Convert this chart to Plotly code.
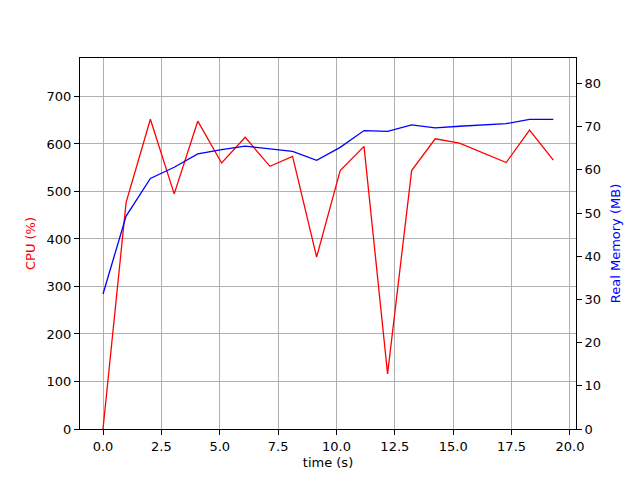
import plotly.graph_objects as go

time_s = [0.0, 0.99, 2.03, 3.05, 4.06, 5.08, 6.09, 7.15, 8.12, 9.15, 10.16,
          11.18, 12.19, 13.22, 14.23, 15.27, 17.27, 18.27, 19.29]
cpu_pct = [0, 477, 652, 495, 648, 560, 614, 553, 574, 362, 544,
           595, 116, 544, 611, 602, 561, 629, 566]
mem_mb = [31.25, 49.3, 58.0, 60.6, 63.7, 64.7, 65.5, 64.9, 64.3, 62.2, 65.2,
          69.1, 68.9, 70.4, 69.7, 70.1, 70.7, 71.7, 71.7]

font = dict(family="DejaVu Sans", size=13, color="black")

fig = go.Figure()
fig.add_trace(go.Scatter(x=time_s, y=cpu_pct, mode="lines",
                         line=dict(color="red", width=1.3), yaxis="y", showlegend=False))
fig.add_trace(go.Scatter(x=time_s, y=mem_mb, mode="lines",
                         line=dict(color="blue", width=1.3), yaxis="y2", showlegend=False))

# page body has an 8px margin, so the figure is made 8px smaller
fig.update_layout(
    width=632, height=472,
    margin=dict(l=72, r=64, t=50, b=45),
    paper_bgcolor="white", plot_bgcolor="white",
    font=font,
    xaxis=dict(range=[-0.985, 20.26], dtick=2.5, tick0=0, tickformat=".1f",
               showgrid=True, gridcolor="#b0b0b0", gridwidth=1,
               showline=True, linecolor="black", linewidth=1, mirror=True,
               ticks="outside", ticklen=5, tickcolor="black", zeroline=False,
               title=dict(text="time (s)", font=font, standoff=5)),
    yaxis=dict(range=[0, 781], dtick=100, tick0=0,
               showgrid=True, gridcolor="#b0b0b0", gridwidth=1,
               showline=True, linecolor="black", linewidth=1,
               ticks="outside", ticklen=5, tickcolor="black", zeroline=False,
               title=dict(text="CPU (%)", font=dict(family="DejaVu Sans", size=13, color="red"), standoff=8)),
    yaxis2=dict(range=[0, 85.9], dtick=10, tick0=0, overlaying="y", side="right",
                showgrid=False,
                showline=True, linecolor="black", linewidth=1,
                ticks="outside", ticklen=5, tickcolor="black", zeroline=False,
                title=dict(text="Real Memory (MB)", font=dict(family="DejaVu Sans", size=13, color="blue"), standoff=10)),
)

fig.write_html("out.html")
